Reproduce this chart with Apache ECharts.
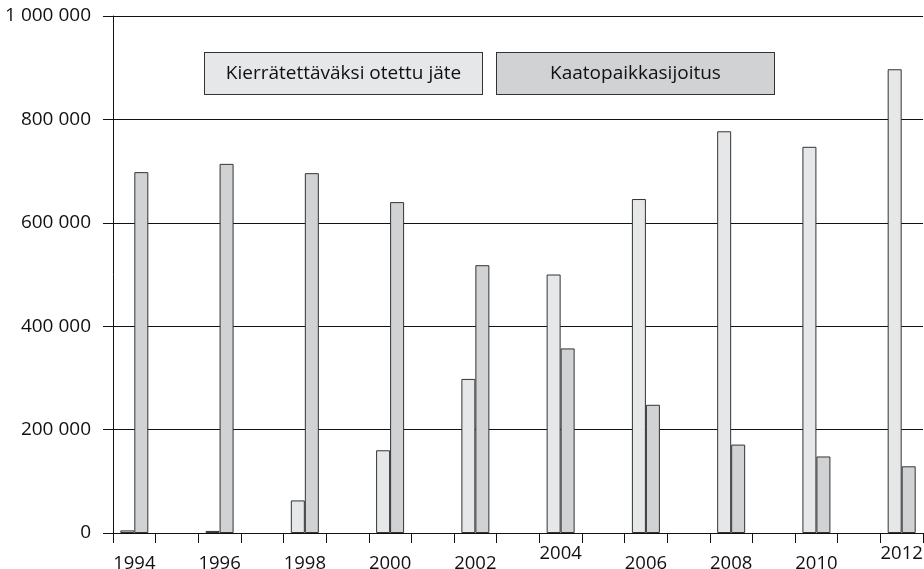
<!DOCTYPE html>
<html>
<head>
<meta charset="utf-8">
<script src="https://cdn.jsdelivr.net/npm/echarts@6/dist/echarts.min.js"></script>
<style>
html,body{margin:0;padding:0;background:#fff;}
#chart{width:924px;height:569px;}
</style>
</head>
<body>
<div id="chart"></div>
<script>
var years = ['1994','1995','1996','1997','1998','1999','2000','2001','2002','2003','2004','2005','2006','2007','2008','2009','2010','2011','2012'];
var seriesNames = ['Kierrätettäväksi otettu jäte', 'Kaatopaikkasijoitus'];
var recycled = [5000,null,4000,null,63000,null,160000,null,298000,null,500000,null,646000,null,777000,null,747000,null,897000];
var landfill = [698000,null,714000,null,696000,null,640000,null,518000,null,357000,null,248000,null,171000,null,148000,null,129000];
var yTicks = [0,200000,400000,600000,800000,1000000];
var labelRaised = ['2004','2012'];

var FONT = 'Open Sans';
var chart = echarts.init(document.getElementById('chart'), null, {renderer:'canvas'});

function fmtNum(v){
  return String(v).replace(/\B(?=(\d{3})+(?!\d))/g, ' ');
}

var boxStyle = function(bg){
  return {
    rich:{
      b:{
        color:'#111', fontFamily: FONT, fontSize: 19,
        backgroundColor: bg, borderColor:'#333', borderWidth:1,
        width: 277, height: 41, lineHeight: 41, align:'center', verticalAlign:'middle'
      }
    }
  };
};

chart.setOption({
  animation:false,
  backgroundColor:'#fff',
  grid:{left:113, right:1, top:16, bottom:36, containLabel:false, outerBoundsMode:'none'},
  legend:{
    left:194, top:47, itemGap:8, itemWidth:0, itemHeight:0, selectedMode:false,
    formatter:function(n){ return '{b|' + n + '}'; },
    data:[
      {name: seriesNames[0], icon:'rect', textStyle: boxStyle('#e6e7e8')},
      {name: seriesNames[1], icon:'rect', textStyle: boxStyle('#d1d2d4')}
    ]
  },
  xAxis:{
    type:'category', data: years,
    axisLine:{lineStyle:{color:'#111', width:1}},
    axisTick:{show:true, length:10, alignWithLabel:false, interval:0, lineStyle:{color:'#111'}},
    axisLabel:{
      interval:0, margin:11, color:'#111', fontFamily:FONT, fontSize:18.5,
      formatter:function(v){
        if (Number(v) % 2 === 1) return '';
        return labelRaised.indexOf(v) >= 0 ? '{r|' + v + '}' : '{n|' + v + '}';
      },
      rich:{
        r:{fontFamily:FONT, fontSize:18.5, color:'#111', padding:[0,0,0,0]},
        n:{fontFamily:FONT, fontSize:18.5, color:'#111', padding:[10,0,0,0]}
      }
    },
    splitLine:{show:false}
  },
  yAxis:{
    type:'value', min: yTicks[0], max: yTicks[yTicks.length-1], interval: yTicks[1]-yTicks[0],
    axisLine:{show:true, lineStyle:{color:'#111', width:1}},
    axisTick:{show:true, length:10, lineStyle:{color:'#111'}},
    axisLabel:{margin:22, color:'#111', fontFamily:FONT, fontSize:19, formatter: fmtNum},
    splitLine:{show:true, lineStyle:{color:'#111', width:1}}
  },
  series:[
    {name: seriesNames[0], type:'bar', data: recycled, barWidth:14, barGap:'0%',
     itemStyle:{color:'#e6e7e8', borderColor:'#333', borderWidth:1}},
    {name: seriesNames[1], type:'bar', data: landfill, barWidth:14, barGap:'0%',
     itemStyle:{color:'#d1d2d4', borderColor:'#333', borderWidth:1}}
  ]
});
</script>
</body>
</html>
